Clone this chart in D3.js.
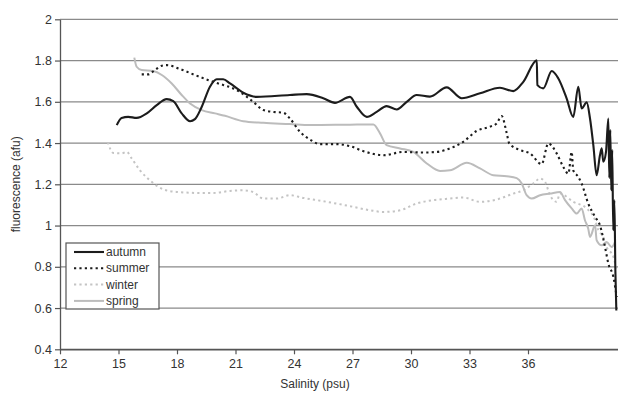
<!DOCTYPE html>
<html>
<head>
<meta charset="utf-8">
<script src="https://cdnjs.cloudflare.com/ajax/libs/d3/7.8.5/d3.min.js"></script>
<style>
  html, body { margin: 0; padding: 0; background: #fff; }
  svg { display: block; font-family: "Liberation Sans", Arial, sans-serif; }
</style>
</head>
<body>
<svg id="chart" width="618" height="394"></svg>
<script>
// Fluorescence profiles against salinity for four seasons
const seriesNames = ["autumn", "summer", "winter", "spring"];

const autumnSal = [14.91,15.16,15.50,15.93,16.45,16.96,17.47,17.81,18.24,18.67,18.92,19.27,19.69,20.04,20.37,20.72,21.40,22.09,23.79,24.65,25.50,26.10,26.87,27.22,27.73,28.24,28.75,29.27,29.78,30.29,30.97,31.83,32.60,33.54,34.56,35.25,35.76,36.45,36.48,36.78,37.22,37.55,37.98,38.32,38.58,38.75,39.01,39.18,39.35,39.52,39.69,39.78,39.86,40.00,40.12,40.17,40.22,40.27,40.32,40.37,40.43,40.48,40.53];
const autumnFl = [1.487,1.522,1.527,1.522,1.544,1.584,1.613,1.603,1.544,1.506,1.516,1.576,1.673,1.709,1.709,1.689,1.644,1.624,1.633,1.637,1.617,1.595,1.624,1.576,1.527,1.551,1.579,1.563,1.600,1.633,1.625,1.670,1.617,1.641,1.668,1.652,1.697,1.801,1.681,1.665,1.749,1.714,1.617,1.527,1.673,1.568,1.597,1.519,1.390,1.244,1.341,1.375,1.309,1.357,1.519,1.230,1.463,1.171,1.366,0.977,1.123,0.783,0.588];

const summerSal = [16.19,16.53,16.87,17.22,17.47,18.07,18.92,19.61,20.12,21.06,21.91,22.43,22.94,23.45,23.79,24.31,24.82,25.33,26.19,26.87,27.55,28.58,29.61,30.63,31.32,32.00,32.68,33.37,34.05,34.39,34.65,34.91,35.04,35.59,36.10,36.70,37.04,37.47,37.81,38.07,38.24,38.32,38.58,38.75,39.09,39.44,39.69,39.95,40.12,40.38,40.55];
const summerFl = [1.733,1.733,1.754,1.775,1.778,1.762,1.730,1.705,1.689,1.657,1.600,1.560,1.551,1.547,1.519,1.454,1.417,1.395,1.395,1.385,1.361,1.341,1.357,1.354,1.357,1.374,1.406,1.459,1.479,1.495,1.531,1.447,1.398,1.366,1.350,1.298,1.398,1.350,1.284,1.252,1.357,1.268,1.236,1.204,1.107,1.042,1.001,0.896,0.816,0.750,0.653];

const winterSal = [14.45,14.73,15.16,15.42,15.68,16.10,16.70,17.30,17.98,19.18,19.86,20.72,21.40,21.91,22.43,23.11,23.79,24.48,25.50,26.87,27.90,28.58,29.44,30.29,31.14,32.00,32.68,33.54,34.39,35.25,35.76,36.27,36.62,36.87,37.13,37.47,37.64,38.32,39.01,39.44,39.61,39.86,40.03,40.38,40.55];
const winterFl = [1.404,1.352,1.350,1.357,1.325,1.268,1.212,1.175,1.163,1.158,1.158,1.168,1.171,1.162,1.131,1.131,1.147,1.134,1.118,1.094,1.074,1.066,1.074,1.107,1.123,1.131,1.136,1.115,1.126,1.155,1.171,1.204,1.228,1.212,1.147,1.115,1.155,1.115,1.083,1.026,0.977,0.945,0.896,0.848,0.783];

const springSal = [15.81,15.93,16.19,16.78,17.22,17.73,18.24,18.67,19.27,19.95,20.46,21.40,22.43,23.79,24.82,26.87,28.07,28.41,28.75,29.44,30.12,30.81,31.49,32.00,32.86,33.54,34.22,34.91,35.42,35.68,35.93,36.19,36.62,37.13,37.64,37.90,38.24,38.50,38.75,38.92,39.09,39.18,39.44,39.52,39.78,40.03,40.29,40.46];
const springFl = [1.814,1.770,1.754,1.749,1.730,1.689,1.633,1.592,1.560,1.544,1.532,1.506,1.498,1.492,1.487,1.489,1.490,1.447,1.390,1.374,1.357,1.301,1.265,1.268,1.304,1.277,1.244,1.239,1.230,1.204,1.147,1.131,1.147,1.155,1.163,1.123,1.083,1.058,1.083,1.026,0.985,0.945,1.001,0.929,0.904,0.920,0.896,0.920];

const xTicks = [12, 15, 18, 21, 24, 27, 30, 33, 36];
const yTicks = [0.4, 0.6, 0.8, 1, 1.2, 1.4, 1.6, 1.8, 2];

const svg = d3.select("#chart");
const x = d3.scaleLinear().domain([12, 40.6]).range([60, 617.7]);
const y = d3.scaleLinear().domain([0.4, 2]).range([349.3, 19.3]);

// horizontal gridlines
svg.append("g")
  .selectAll("line")
  .data(yTicks.filter(d => d > 0.4))
  .join("line")
  .attr("x1", x(12)).attr("x2", 618)
  .attr("y1", d => y(d)).attr("y2", d => y(d))
  .attr("stroke", "#8a8a8a").attr("stroke-width", 1.3);

// axes
const yAxis = svg.append("g")
  .attr("transform", `translate(${x(12)},0)`)
  .call(d3.axisLeft(y).tickValues(yTicks).tickFormat(d3.format("")).tickSize(5).tickSizeOuter(0));
const xAxis = svg.append("g")
  .attr("transform", `translate(0,${y(0.4)})`)
  .call(d3.axisBottom(x).tickValues(xTicks).tickSize(5).tickSizeOuter(0));
[xAxis, yAxis].forEach(g => {
  g.select(".domain").attr("stroke", "#555").attr("stroke-width", 1.3);
  g.selectAll(".tick line").attr("stroke", "#555").attr("stroke-width", 1.2);
  g.selectAll("text").attr("fill", "#333").style("font-size", "12.5px")
    .style("font-family", '"Liberation Sans", Arial, sans-serif');
});
yAxis.selectAll("text").attr("x", -8);
xAxis.selectAll("text").attr("y", 10);
// bottom axis line across the width
svg.append("line")
  .attr("x1", x(12)).attr("x2", 618)
  .attr("y1", y(0.4)).attr("y2", y(0.4))
  .attr("stroke", "#555").attr("stroke-width", 1.3);

// axis titles
svg.append("text")
  .attr("x", 315).attr("y", 388)
  .attr("text-anchor", "middle")
  .attr("fill", "#333").style("font-size", "12px")
  .text("Salinity (psu)");
svg.append("text")
  .attr("transform", `translate(20,${(y(2) + y(0.4)) / 2}) rotate(-90)`)
  .attr("text-anchor", "middle")
  .attr("fill", "#333").style("font-size", "12px")
  .text("fluorescence (afu)");

// series
const styles = {
  autumn: { color: "#1c1c1c", dash: null, width: 2.1 },
  summer: { color: "#1c1c1c", dash: "2.2,3.2", width: 2.1 },
  winter: { color: "#c4c4c4", dash: "2.2,3.2", width: 2 },
  spring: { color: "#bcbcbc", dash: null, width: 2 }
};
const seriesData = {
  autumn: autumnSal.map((s, i) => [s, autumnFl[i]]),
  summer: summerSal.map((s, i) => [s, summerFl[i]]),
  winter: winterSal.map((s, i) => [s, winterFl[i]]),
  spring: springSal.map((s, i) => [s, springFl[i]])
};
const line = d3.line().x(d => x(d[0])).y(d => y(d[1])).curve(d3.curveMonotoneX);

["winter", "spring", "summer", "autumn"].forEach(name => {
  const st = styles[name];
  svg.append("path")
    .datum(seriesData[name])
    .attr("fill", "none")
    .attr("stroke", st.color)
    .attr("stroke-width", st.width)
    .attr("stroke-linejoin", "round")
    .attr("stroke-dasharray", st.dash)
    .attr("d", line);
});

// legend
const legend = svg.append("g");
legend.append("rect")
  .attr("x", 66).attr("y", 243).attr("width", 93).attr("height", 66)
  .attr("fill", "#fff").attr("stroke", "#555").attr("stroke-width", 1.2);
seriesNames.forEach((name, i) => {
  const st = styles[name];
  const ly = 252 + i * 16.3;
  legend.append("line")
    .attr("x1", 74).attr("x2", 104).attr("y1", ly).attr("y2", ly)
    .attr("stroke", st.color).attr("stroke-width", st.width)
    .attr("stroke-dasharray", st.dash);
  legend.append("text")
    .attr("x", 106).attr("y", ly + 4)
    .attr("fill", "#333").style("font-size", "12px")
    .text(name);
});
</script>
</body>
</html>
